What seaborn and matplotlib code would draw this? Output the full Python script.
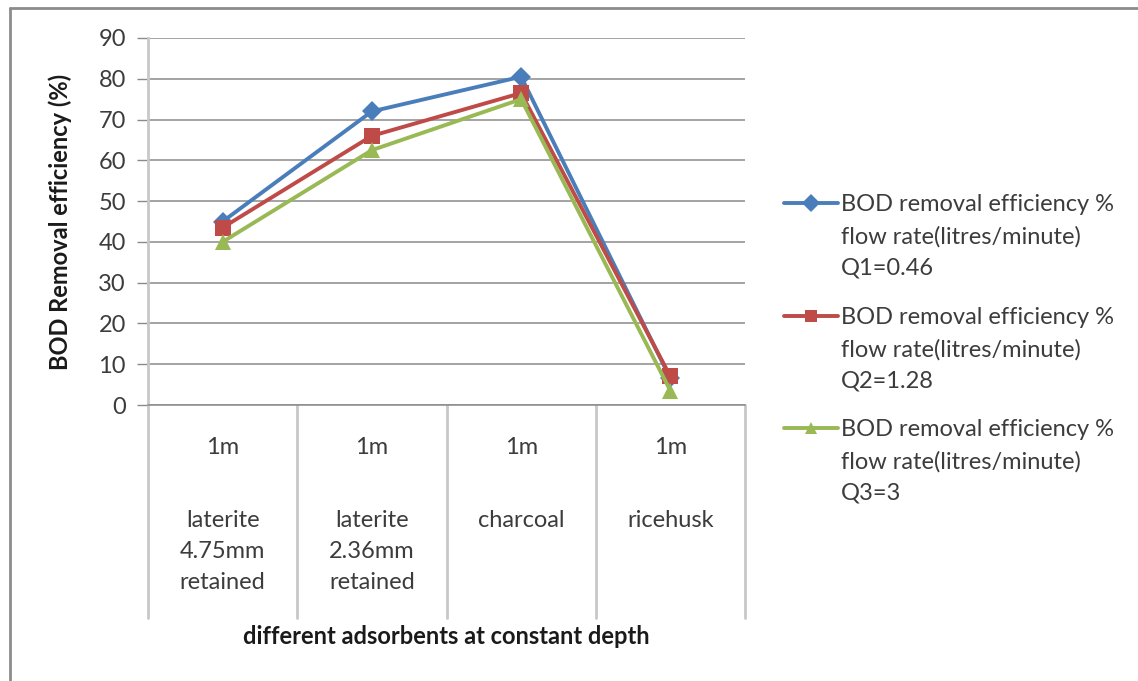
import matplotlib
matplotlib.use("Agg")
import matplotlib.pyplot as plt
import matplotlib.transforms as mtransforms
from matplotlib.lines import Line2D
import seaborn as sns
import pandas as pd

# Adsorbent media (all at 1 m bed depth)
depths = ["1m", "1m", "1m", "1m"]
adsorbents = ["laterite\n4.75mm\nretained", "laterite\n2.36mm\nretained", "charcoal", "ricehusk"]

# BOD removal efficiency (%) at three flow rates
q1_eff = [45, 72, 80.5, 6.5]
q2_eff = [43.5, 66, 76.5, 7]
q3_eff = [40, 62.5, 75, 3.5]

series_names = [
    "BOD removal efficiency %\nflow rate(litres/minute)\nQ1=0.46",
    "BOD removal efficiency %\nflow rate(litres/minute)\nQ2=1.28",
    "BOD removal efficiency %\nflow rate(litres/minute)\nQ3=3",
]
colors = ["#4A7EBB", "#BE4B48", "#98B954"]
markers = ["D", "s", "^"]
marker_sizes = [10, 11, 12]
y_ticks = [0, 10, 20, 30, 40, 50, 60, 70, 80, 90]

rows = []
for name, vals in zip(series_names, [q1_eff, q2_eff, q3_eff]):
    for i, v in enumerate(vals):
        rows.append({"pos": i, "eff": v, "series": name})
df = pd.DataFrame(rows)

sns.set_theme(style="white")
plt.rcParams["font.family"] = ["Lato", "DejaVu Sans"]

W, H = 1138, 681
FS = 17
TXT = "#3c3c3c"

fig = plt.figure(figsize=(W / 100, H / 100), dpi=100)
fig.patch.set_facecolor("white")
ax = fig.add_axes([148 / W, 1 - 405 / H, (745 - 148) / W, (405 - 38) / H])

for name, c, m, ms in zip(series_names, colors, markers, marker_sizes):
    sns.lineplot(data=df[df["series"] == name], x="pos", y="eff", color=c,
                 marker=m, markersize=ms, markeredgewidth=0, linewidth=2.8,
                 ax=ax, legend=False, zorder=3)

ax.set_xlim(-0.5, 3.5)
ax.set_ylim(0, 90)
ax.set_yticks(y_ticks)
ax.set_yticklabels([str(t) for t in y_ticks], fontsize=FS, color=TXT)
ax.set_xticks([])
ax.yaxis.grid(True, color="#8a8a8a", linewidth=1.1)
ax.set_axisbelow(True)
ax.tick_params(axis="y", left=True, length=8, width=1, color="#8a8a8a", pad=8)
for side in ["top", "right"]:
    ax.spines[side].set_visible(False)
ax.spines["left"].set_color("#c8c8c8")
ax.spines["left"].set_linewidth(2)
ax.spines["bottom"].set_color("#8a8a8a")
ax.spines["bottom"].set_linewidth(1.1)
ax.set_xlabel("")
ax.set_ylabel("BOD Removal efficiency (%)", fontsize=FS, fontweight="bold",
              color="#1a1a1a", labelpad=19)

# Category table below the axis
trans = mtransforms.blended_transform_factory(ax.transData, fig.transFigure)
y_top = 1 - 405 / H
y_bot = 1 - 618 / H
for b in [-0.5, 0.5, 1.5, 2.5, 3.5]:
    ax.add_line(Line2D([b, b], [y_top, y_bot], transform=trans, color="#c8c8c8",
                       linewidth=2, clip_on=False))
for i, (d, a) in enumerate(zip(depths, adsorbents)):
    ax.text(i, 1 - 447 / H, d, transform=trans, ha="center", va="center",
            fontsize=FS, color=TXT)
    ax.text(i, 1 - 510 / H, a, transform=trans, ha="center", va="top",
            fontsize=FS, color=TXT, linespacing=1.6)

fig.text(446 / W, 1 - 637 / H, "different adsorbents at constant depth",
         ha="center", va="center", fontsize=FS, fontweight="bold", color="#1a1a1a")

# Legend: key aligned with the first line of each entry
entry_tops = [203, 316, 428]
for name, c, m, y in zip(series_names, colors, markers, entry_tops):
    yf = 1 - y / H
    fig.add_artist(Line2D([784 / W, 838 / W], [yf, yf], transform=fig.transFigure,
                          color=c, linewidth=2.8))
    fig.add_artist(Line2D([811 / W], [yf], transform=fig.transFigure, color=c,
                          marker=m, markersize=9, markeredgewidth=0, linestyle="none"))
    fig.text(841 / W, 1 - (y - 9) / H, name, ha="left", va="top", fontsize=FS,
             color=TXT, linespacing=1.62)

# Outer chart frame (top and left edges)
fig.add_artist(Line2D([10 / W, 1.0], [1 - 8 / H, 1 - 8 / H], transform=fig.transFigure,
                      color="#8c8c8c", linewidth=2))
fig.add_artist(Line2D([10 / W, 10 / W], [0.0, 1 - 8 / H], transform=fig.transFigure,
                      color="#8c8c8c", linewidth=2))

fig.savefig("out.png", dpi=100, facecolor="white")
